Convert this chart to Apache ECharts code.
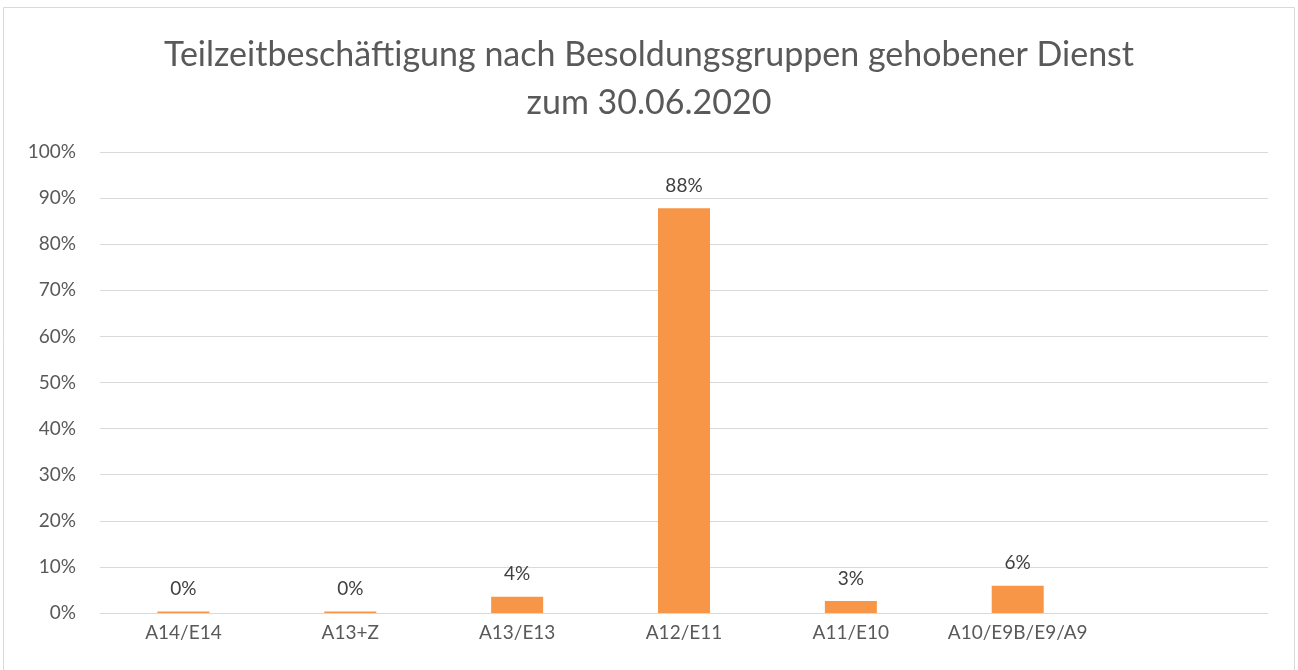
<!DOCTYPE html>
<html>
<head>
<meta charset="utf-8">
<script src="https://cdn.jsdelivr.net/npm/echarts@6/dist/echarts.min.js"></script>
<style>html,body{margin:0;padding:0;background:#fff}#c{width:1298px;height:670px}</style>
</head>
<body>
<div id="c"></div>
<script>
const titleText = 'Teilzeitbeschäftigung nach Besoldungsgruppen gehobener Dienst\nzum 30.06.2020';
const categories = ['A14/E14', 'A13+Z', 'A13/E13', 'A12/E11', 'A11/E10', 'A10/E9B/E9/A9', ''];
const values = [0.3, 0.3, 3.5, 87.8, 2.6, 5.9, null];
const yTicks = [0, 10, 20, 30, 40, 50, 60, 70, 80, 90, 100];

const chart = echarts.init(document.getElementById('c'));
const font = 'Lato, "Open Sans", sans-serif';
chart.setOption({
  backgroundColor: '#fff',
  animation: false,
  title: {
    text: titleText,
    left: 'center',
    top: 26,
    textStyle: { fontFamily: font, fontSize: 34, fontWeight: 'normal', color: '#595959', lineHeight: 48 }
  },
  graphic: [{
    type: 'rect', shape: { x: 3.5, y: 7.5, width: 1291, height: 680 },
    style: { fill: 'none', stroke: '#d9d9d9', lineWidth: 1 }, silent: true
  }],
  grid: { left: 100, right: 30, top: 152, bottom: 57, containLabel: false },
  xAxis: {
    type: 'category',
    data: categories,
    axisLine: { show: true, lineStyle: { color: '#d9d9d9', width: 1 } },
    axisTick: { show: false },
    axisLabel: { fontFamily: font, fontSize: 19, color: '#595959', margin: 10, interval: 0 }
  },
  yAxis: {
    type: 'value',
    min: 0, max: 100, interval: 10,
    axisLine: { show: false },
    axisTick: { show: false },
    splitLine: { lineStyle: { color: '#d9d9d9', width: 1 } },
    axisLabel: { fontFamily: font, fontSize: 19, color: '#595959', margin: 24,
      formatter: v => yTicks.includes(v) ? v + '%' : '' }
  },
  series: [{
    type: 'bar',
    data: values,
    barWidth: 52,
    itemStyle: { color: '#F79646' },
    label: {
      show: true, position: 'top', distance: 13,
      fontFamily: font, fontSize: 19, color: '#404040',
      formatter: p => p.value == null ? '' : Math.round(p.value) + '%'
    }
  }]
});
</script>
</body>
</html>
